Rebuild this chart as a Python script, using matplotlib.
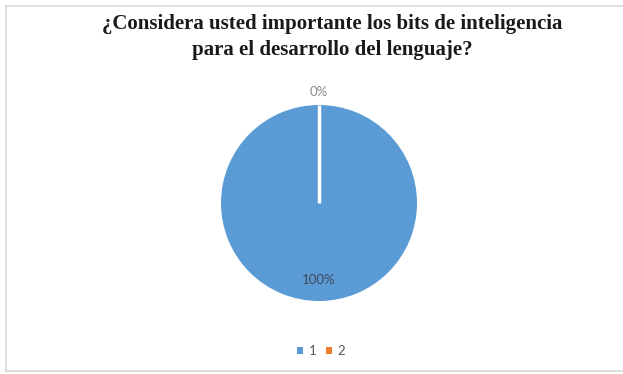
import numpy as np
import matplotlib
matplotlib.use("Agg")
import matplotlib.pyplot as plt
from matplotlib.patches import Rectangle
from matplotlib.lines import Line2D

title = "¿Considera usted importante los bits de inteligencia\npara el desarrollo del lenguaje?"
categories = ["1", "2"]
values = [100, 0]
pct_labels = ["100%", "0%"]
colors = ["#5B9BD5", "#ED7D31"]

W, H = 623, 374
fig = plt.figure(figsize=(W / 100, H / 100), dpi=100)
fig.patch.set_facecolor("white")

# light chart-area frame (top, left, bottom edges)
fx0, fy0, fy1 = 5.5 / W, 1 - 5.5 / H, 1 - 371 / H
for xs, ys in [([fx0, 1], [fy0, fy0]), ([fx0, fx0], [fy0, fy1]), ([fx0, 1], [fy1, fy1])]:
    fig.add_artist(Line2D(xs, ys, transform=fig.transFigure,
                          color="#d9d9d9", linewidth=1.2))

fig.text(332.5 / W, 1 - 37.5 / H, title, ha="center", va="center",
         family="Liberation Serif", fontweight="bold", fontsize=15,
         color="#1a1a1a", linespacing=1.4)

cx, cy, r = 319, 203, 98
ax = fig.add_axes([(cx - r) / W, (H - cy - r) / H, 2 * r / W, 2 * r / H])
ax.axis("off")

wedges, _ = ax.pie(values, colors=colors, startangle=90, counterclock=False,
                   radius=1, wedgeprops=dict(linewidth=0))
ax.set_xlim(-1, 1)
ax.set_ylim(-1, 1)
ax.set_aspect("equal")

# white separator at the slice boundary
ang = np.deg2rad(wedges[1].theta1)
ax.add_line(Line2D([0, np.cos(ang)], [0, np.sin(ang)], color="white",
                   linewidth=2.5, solid_capstyle="butt"))

# percentage labels
dists = [0.79, 1.13]
lcolors = ["#404a5a", "#8a8a8a"]
for w, lab, d, c in zip(wedges, pct_labels, dists, lcolors):
    mid = np.deg2rad((w.theta1 + w.theta2) / 2)
    ax.text(d * np.cos(mid), d * np.sin(mid), lab, ha="center", va="center",
            family="Lato", fontsize=9.5, color=c, clip_on=False)

handles = [Rectangle((0, 0), 1, 1, facecolor=c, edgecolor="none") for c in colors]
fig.legend(handles, categories, loc="center", bbox_to_anchor=(0.515, 1 - 351 / H),
           ncol=2, frameon=False, handlelength=0.5, handleheight=0.5,
           handletextpad=0.4, columnspacing=0.7,
           prop=dict(family="Lato", size=9.5), labelcolor="#595959")

fig.savefig("out.png", dpi=100)
